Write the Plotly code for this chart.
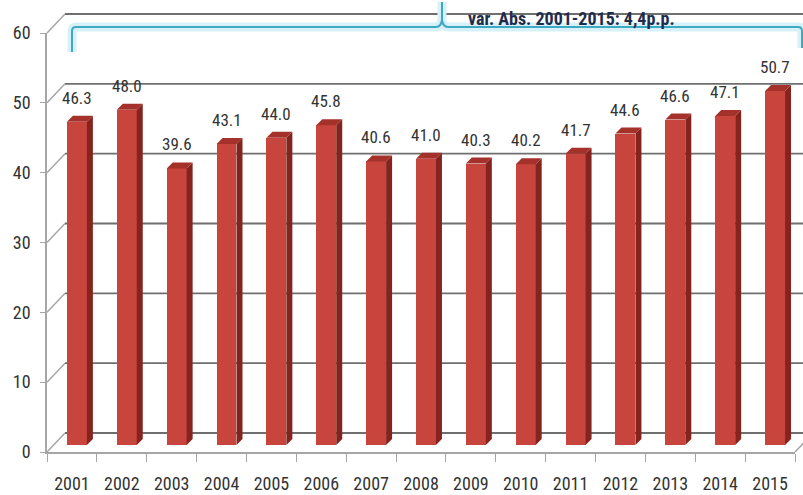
import plotly.graph_objects as go

years = ["2001", "2002", "2003", "2004", "2005", "2006", "2007", "2008",
         "2009", "2010", "2011", "2012", "2013", "2014", "2015"]
values = [46.3, 48.0, 39.6, 43.1, 44.0, 45.8, 40.6, 41.0,
          40.3, 40.2, 41.7, 44.6, 46.6, 47.1, 50.7]
labels = ["46.3", "48.0", "39.6", "43.1", "44.0", "45.8", "40.6", "41.0",
          "40.3", "40.2", "41.7", "44.6", "46.6", "47.1", "50.7"]
yticks = [0, 10, 20, 30, 40, 50, 60]
note = "var. Abs. 2001-2015: 4,4p.p."

W, H = 803, 495
ML, MR, MT, MB = 47, 8, 33, 43
PW, PH = W - ML - MR, H - MT - MB
YMAX = 60
KPX = PH / YMAX            # px per unit
CATPX = PW / len(years)    # px per category

FONT = "Liberation Sans Narrow, Roboto Condensed, DejaVu Sans Condensed, Arial Narrow, sans-serif"
FRONT = "#C8453E"
TOP = "#A5312B"
SIDE = "#85241F"
GRID = "#6f6f6f"
AXIS = "#a6a6a6"
TXT = "#333333"

# bar geometry (category units / value units)
BOFF = -0.1
BW = 0.4
DX = 6 / CATPX
DY = 6 / KPX
BAR_LIFT = 7 / KPX  # bars sit slightly behind the front plane

xs = list(range(len(years)))

def pp(px, py):
    return (px - ML) / PW, ((H - MB) - py) / PH

fig = go.Figure()

# front faces
fig.add_trace(go.Bar(
    x=xs, y=values, base=[BAR_LIFT] * len(values), offset=BOFF, width=BW,
    marker=dict(color=FRONT, line=dict(width=0)), hoverinfo="skip", showlegend=False))

# side and top faces
sx, sy, tx, ty = [], [], [], []
for i, v in zip(xs, values):
    r = i + BOFF + BW
    l = i + BOFF
    b = BAR_LIFT
    t = v + BAR_LIFT
    sx += [r, r + DX, r + DX, r, r, None]
    sy += [b, b + DY, t + DY, t, b, None]
    tx += [l, r, r + DX, l + DX, l, None]
    ty += [t, t, t + DY, t + DY, t, None]
fig.add_trace(go.Scatter(x=sx, y=sy, mode="lines", fill="toself", fillcolor=SIDE,
                         line=dict(width=0, color=SIDE), hoverinfo="skip", showlegend=False))
fig.add_trace(go.Scatter(x=tx, y=ty, mode="lines", fill="toself", fillcolor=TOP,
                         line=dict(width=0, color=TOP), hoverinfo="skip", showlegend=False))

# value labels
for i, v, lab in zip(xs, values, labels):
    fig.add_annotation(x=i + BOFF + BW / 2, y=v + BAR_LIFT, text=lab, showarrow=False,
                       yanchor="bottom", yshift=12,
                       font=dict(family=FONT, size=17, color=TXT))

shapes = []
# back wall gridlines and left wall diagonals
DPX, DPY = 18, 19
for t in yticks:
    py = (H - MB) - t * KPX
    x0, y0 = pp(ML, py)
    x1, y1 = pp(ML + DPX, py - DPY)
    x2, _ = pp(W + 30, py - DPY)
    shapes.append(dict(type="line", xref="paper", yref="paper", x0=x0, y0=y0, x1=x1, y1=y1,
                       line=dict(color=AXIS, width=1.5), layer="below"))
    shapes.append(dict(type="line", xref="paper", yref="paper", x0=x1, y0=y1, x1=x2, y1=y1,
                       line=dict(color=GRID, width=1.8), layer="below"))
# floor right diagonal
x0, y0 = pp(ML + PW, H - MB)
x1, y1 = pp(ML + PW + DPX, H - MB - DPY)
shapes.append(dict(type="line", xref="paper", yref="paper", x0=x0, y0=y0, x1=x1, y1=y1,
                   line=dict(color=AXIS, width=1.5)))

# bracket
def path(points):
    s = ""
    for cmd, px, py in points:
        x, y = pp(px, py)
        s += f"{cmd}{x:.5f},{y:.5f} "
    return s
br = path([("M", 72, 52), ("L", 72, 31), ("Q", 72, 27), ("", 76, 27), ("L", 436, 27),
           ("Q", 441, 27), ("", 442, 20), ("L", 442, 2), ("L", 442, 20), ("Q", 443, 27), ("", 448, 27),
           ("L", 798, 27), ("Q", 802, 27), ("", 802, 31), ("L", 802, 48)])
shapes.append(dict(type="path", xref="paper", yref="paper", path=br,
                   line=dict(color="#d6f1f7", width=9), layer="above"))
shapes.append(dict(type="path", xref="paper", yref="paper", path=br,
                   line=dict(color="#3fa9c4", width=2), layer="above"))

fig.update_layout(shapes=shapes)

nx, ny = pp(466, 18)
fig.add_annotation(xref="paper", yref="paper", x=nx, y=ny, xanchor="left", yanchor="middle",
                   text=note, showarrow=False,
                   font=dict(family=FONT, size=18, color="#1f2d4d", weight="bold"))

fig.update_layout(
    width=W, height=H,
    margin=dict(l=ML, r=MR, t=MT, b=MB, pad=0, autoexpand=False),
    paper_bgcolor="white", plot_bgcolor="white",
    showlegend=False,
    bargap=0,
    xaxis=dict(range=[-0.5, len(years) - 0.5], tickmode="array", tickvals=xs, ticktext=years,
               showgrid=False, zeroline=False, showline=True, linecolor=AXIS, linewidth=1.5,
               ticks="", ticklabelstandoff=15, automargin=False,
               minor=dict(tickmode="linear", tick0=-0.5, dtick=1, ticks="outside", ticklen=8,
                          tickcolor=AXIS, tickwidth=1.2, showgrid=False),
               tickfont=dict(family=FONT, size=18, color=TXT), fixedrange=True),
    yaxis=dict(range=[0, YMAX], tickmode="array", tickvals=yticks, showgrid=False,
               zeroline=False, showline=True, linecolor=AXIS, linewidth=1.5,
               ticks="outside", ticklen=5, tickcolor=AXIS, ticklabelstandoff=6, automargin=False,
               tickfont=dict(family=FONT, size=18, color=TXT), fixedrange=True),
)

fig.write_html("out.html")
